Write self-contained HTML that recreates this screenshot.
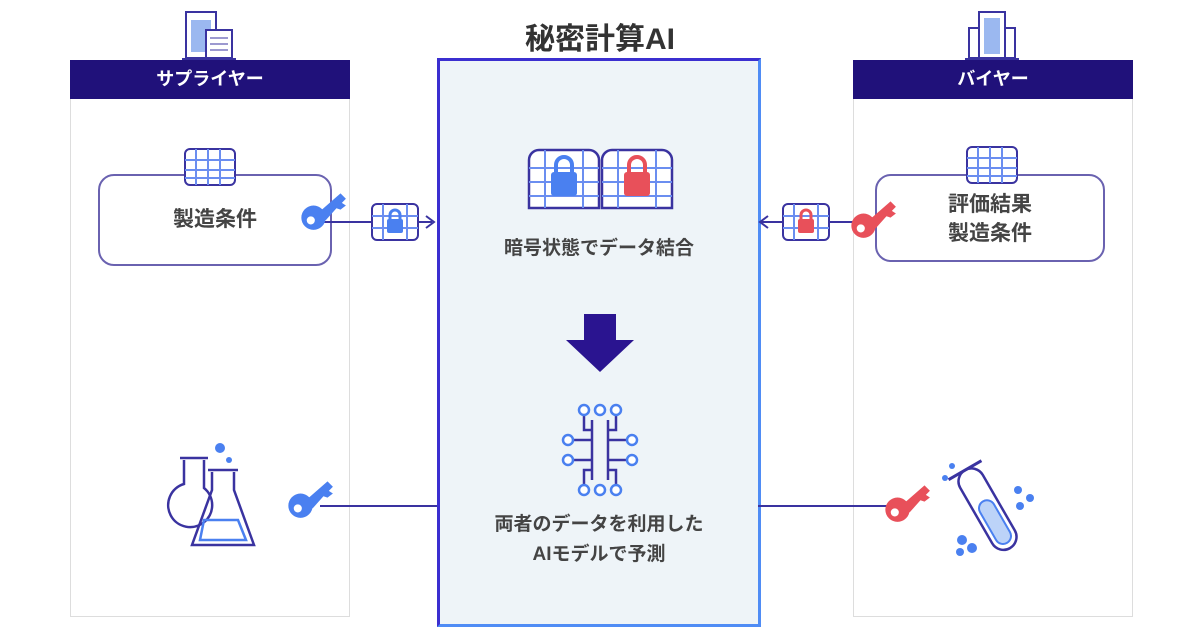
<!DOCTYPE html>
<html><head><meta charset="utf-8"><style>
body{margin:0;width:1200px;height:630px;background:#fff;position:relative;overflow:hidden;font-family:"Liberation Sans","Noto Sans CJK JP",sans-serif;}
.abs{position:absolute}
.panel{position:absolute;top:60px;width:278px;height:555px;border:1px solid #ddd;background:#fff}
.hdr{position:absolute;left:-1px;top:-1px;width:280px;height:39px;background:#20117a;color:#fff;font-size:18px;font-weight:bold;text-align:center;line-height:39px}
.box{position:absolute;border:2px solid #6a62b0;border-radius:16px;background:#fff;color:#444;font-weight:bold;font-size:21px;text-align:center}
.center{position:absolute;left:437px;top:58px;width:318px;height:563px;border:3px solid #3b2fd0;border-right-color:#4f8cf5;border-bottom-color:#4f8cf5;background:#eef4f8}
.t{position:absolute;color:#444;font-weight:bold;font-size:19px;text-align:center;width:100%}
</style></head><body>
<div class="abs" style="left:440px;top:14px;width:320px;text-align:center;font-size:30px;font-weight:bold;color:#333">秘密計算AI</div>

<div class="panel" style="left:70px"><div class="hdr">サプライヤー</div></div>
<div class="panel" style="left:853px"><div class="hdr">バイヤー</div></div>

<svg class="abs" style="left:180px;top:8px" width="60" height="52"><rect x="6" y="4" width="30" height="46" fill="#fff" stroke="#3a33a0" stroke-width="2"/><rect x="11" y="12" width="20" height="32" fill="#9bb8f0"/><rect x="26" y="22" width="26" height="28" fill="#fff" stroke="#3a33a0" stroke-width="2"/><line x1="30" y1="30" x2="48" y2="30" stroke="#3a33a0"/><line x1="30" y1="36" x2="48" y2="36" stroke="#3a33a0"/><line x1="30" y1="42" x2="48" y2="42" stroke="#3a33a0"/><line x1="2" y1="51" x2="56" y2="51" stroke="#3a33a0" stroke-width="2"/></svg>
<svg class="abs" style="left:963px;top:8px" width="60" height="52"><rect x="16" y="4" width="26" height="46" fill="#fff" stroke="#3a33a0" stroke-width="2"/><rect x="21" y="10" width="16" height="36" fill="#9bb8f0"/><rect x="6" y="20" width="10" height="30" fill="#fff" stroke="#3a33a0" stroke-width="2"/><rect x="42" y="20" width="10" height="30" fill="#fff" stroke="#3a33a0" stroke-width="2"/><line x1="2" y1="51" x2="56" y2="51" stroke="#3a33a0" stroke-width="2"/></svg>

<div class="box" style="left:98px;top:174px;width:230px;height:88px;line-height:88px">製造条件</div>
<div class="box" style="left:875px;top:174px;width:230px;height:88px;line-height:29px;padding-top:14px;box-sizing:border-box">評価結果<br>製造条件</div>

<svg class="abs" style="left:184px;top:148px" width="52" height="38"><rect x="1" y="1" width="50" height="36" rx="5" fill="#fff" stroke="#3a33a0" stroke-width="2"/><g stroke="#6b8ef0" stroke-width="2"><line x1="1" y1="12" x2="51" y2="12"/><line x1="1" y1="22" x2="51" y2="22"/><line x1="1" y1="30" x2="51" y2="30"/><line x1="12" y1="1" x2="12" y2="37"/><line x1="24" y1="1" x2="24" y2="37"/><line x1="36" y1="1" x2="36" y2="37"/></g></svg>
<svg class="abs" style="left:966px;top:146px" width="52" height="38"><rect x="1" y="1" width="50" height="36" rx="5" fill="#fff" stroke="#3a33a0" stroke-width="2"/><g stroke="#6b8ef0" stroke-width="2"><line x1="1" y1="12" x2="51" y2="12"/><line x1="1" y1="22" x2="51" y2="22"/><line x1="1" y1="30" x2="51" y2="30"/><line x1="12" y1="1" x2="12" y2="37"/><line x1="24" y1="1" x2="24" y2="37"/><line x1="36" y1="1" x2="36" y2="37"/></g></svg>

<div class="center"></div>

<svg class="abs" style="left:0;top:0" width="1200" height="630">
<defs>
<g id="key"><circle cx="10" cy="22" r="9"/><path d="M14 18 L30 4 L34 8 L31 11 L34 13 L30 16 L27 15 L19 24 Z"/><circle cx="8" cy="24" r="3" fill="#fff"/></g>
<g id="lk"><rect x="1" y="1" width="46" height="36" rx="5" fill="#fff" stroke="#3a33a0" stroke-width="2"/><g stroke="#6b8ef0" stroke-width="2"><line x1="1" y1="13" x2="47" y2="13"/><line x1="1" y1="25" x2="47" y2="25"/><line x1="12" y1="1" x2="12" y2="37"/><line x1="36" y1="1" x2="36" y2="37"/></g></g>
</defs>
<line x1="320" y1="222" x2="432" y2="222" stroke="#3a33a0" stroke-width="2"/>
<path d="M426 216 L434 222 L426 228" fill="none" stroke="#3a33a0" stroke-width="2"/>
<g fill="#4a80f0" transform="translate(300,188) scale(1.35)"><use href="#key"/></g>
<g transform="translate(371,203)"><use href="#lk"/><rect x="16" y="16" width="16" height="14" rx="2" fill="#4a80f0"/><path d="M19 17 v-5 a5 5 0 0 1 10 0 v5" fill="none" stroke="#4a80f0" stroke-width="3"/></g>
<line x1="760" y1="222" x2="870" y2="222" stroke="#3a33a0" stroke-width="2"/>
<path d="M768 216 L760 222 L768 228" fill="none" stroke="#3a33a0" stroke-width="2"/>
<g fill="#e8505a" transform="translate(850,196) scale(1.35)"><use href="#key"/></g>
<g transform="translate(782,203)"><use href="#lk"/><rect x="16" y="16" width="16" height="14" rx="2" fill="#e8505a"/><path d="M19 17 v-5 a5 5 0 0 1 10 0 v5" fill="none" stroke="#e8505a" stroke-width="3"/></g>
<line x1="320" y1="506" x2="437" y2="506" stroke="#3a33a0" stroke-width="2"/>
<g fill="#4a80f0" transform="translate(287,476) scale(1.35)"><use href="#key"/></g>
<line x1="758" y1="506" x2="893" y2="506" stroke="#3a33a0" stroke-width="2"/>
<g fill="#e8505a" transform="translate(884,480) scale(1.35)"><use href="#key"/></g>

<g transform="translate(527,148)"><path d="M2 60 V12 a10 10 0 0 1 10 -10 H62 a10 10 0 0 1 10 10 V60 Z" fill="#fff" stroke="#3a33a0" stroke-width="2.5"/><g stroke="#6b8ef0" stroke-width="2"><line x1="2" y1="20" x2="72" y2="20"/><line x1="2" y1="34" x2="72" y2="34"/><line x1="2" y1="48" x2="72" y2="48"/><line x1="18" y1="2" x2="18" y2="60"/><line x1="56" y1="2" x2="56" y2="60"/></g><rect x="24" y="24" width="26" height="24" rx="3" fill="#4a80f0"/><path d="M29 25 v-8 a8 8 0 0 1 16 0 v8" fill="none" stroke="#4a80f0" stroke-width="4"/></g>
<g transform="translate(600,148)"><path d="M2 60 V12 a10 10 0 0 1 10 -10 H62 a10 10 0 0 1 10 10 V60 Z" fill="#fff" stroke="#3a33a0" stroke-width="2.5"/><g stroke="#6b8ef0" stroke-width="2"><line x1="2" y1="20" x2="72" y2="20"/><line x1="2" y1="34" x2="72" y2="34"/><line x1="2" y1="48" x2="72" y2="48"/><line x1="18" y1="2" x2="18" y2="60"/><line x1="56" y1="2" x2="56" y2="60"/></g><rect x="24" y="24" width="26" height="24" rx="3" fill="#e8505a"/><path d="M29 25 v-8 a8 8 0 0 1 16 0 v8" fill="none" stroke="#e8505a" stroke-width="4"/></g>

<path d="M584 314 H616 V340 H634 L600 372 L566 340 H584 Z" fill="#2a1490"/>

<g fill="none" stroke="#3a33a0" stroke-width="2.5">
<path d="M592 420 V480 M608 420 V480"/>
<path d="M592 440 H572 M592 460 H572 M608 440 H628 M608 460 H628"/>
<path d="M584 412 V430 H592 M616 412 V430 H608 M584 488 V470 H592 M616 488 V470 H608"/>
</g>
<g fill="#fff" stroke="#4a80f0" stroke-width="2.5"><circle cx="584" cy="410" r="5"/><circle cx="616" cy="410" r="5"/><circle cx="600" cy="410" r="5"/><circle cx="568" cy="440" r="5"/><circle cx="568" cy="460" r="5"/><circle cx="632" cy="440" r="5"/><circle cx="632" cy="460" r="5"/><circle cx="584" cy="490" r="5"/><circle cx="616" cy="490" r="5"/><circle cx="600" cy="490" r="5"/></g>

<g fill="none" stroke="#3a33a0" stroke-width="2.5">
<path d="M184 460 V484 a22 22 0 1 0 20 4 V460"/><path d="M180 458 H208"/>
<path d="M212 472 V490 L192 545 H254 L234 490 V472"/><path d="M208 470 H238"/>
</g>
<path d="M204 520 L200 540 H246 L238 520 Z" fill="none" stroke="#4a80f0" stroke-width="2.5"/>
<circle cx="220" cy="448" r="5" fill="#4a80f0"/><circle cx="229" cy="460" r="3" fill="#4a80f0"/>

<g transform="rotate(-30 988 510)"><rect x="975" y="464" width="26" height="90" rx="13" fill="#fff" stroke="#3a33a0" stroke-width="2.5"/><rect x="980" y="500" width="16" height="48" rx="8" fill="#bcd3f8" stroke="#4a80f0" stroke-width="2"/><line x1="969" y1="464" x2="1007" y2="464" stroke="#3a33a0" stroke-width="3"/></g>
<g fill="#4a80f0"><circle cx="962" cy="540" r="5"/><circle cx="972" cy="548" r="5"/><circle cx="960" cy="552" r="4"/><circle cx="1018" cy="490" r="4"/><circle cx="1030" cy="498" r="4"/><circle cx="1020" cy="506" r="4"/><circle cx="952" cy="466" r="3"/><circle cx="945" cy="478" r="3"/></g>
</svg>

<div class="t" style="left:437px;width:324px;top:233px">暗号状態でデータ結合</div>
<div class="t" style="left:437px;width:324px;top:510px;line-height:30px">両者のデータを利用した<br>AIモデルで予測</div>
</body></html>
